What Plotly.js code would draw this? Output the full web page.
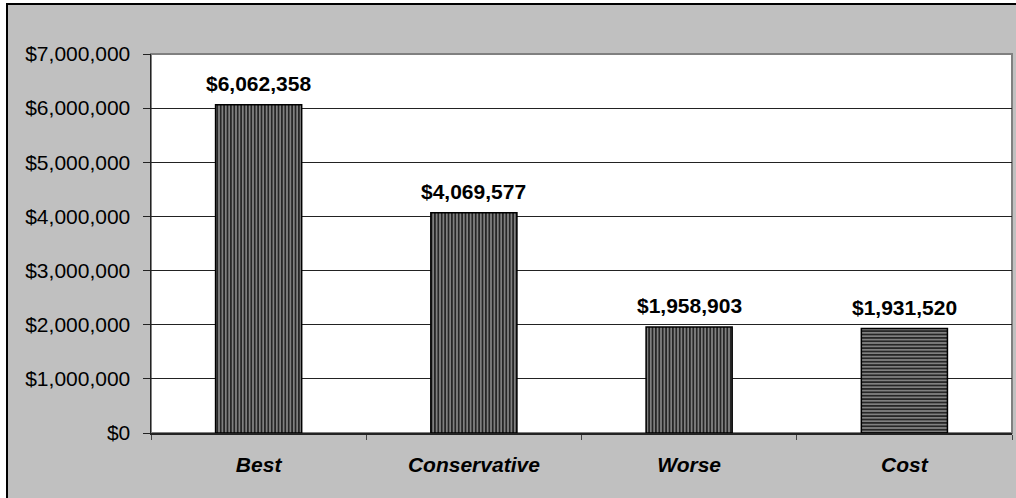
<!DOCTYPE html>
<html><head><meta charset="utf-8">
<script src="https://cdn.plot.ly/plotly-3.0.1.min.js"></script>
<style>
html,body{margin:0;padding:0;background:#fff;}
#chart{position:absolute;left:6px;top:3px;width:1010px;height:495px;border-left:2px solid #000;border-top:2px solid #000;}
</style></head><body>
<div id="chart"></div>
<script>
var categories = ["Best", "Conservative", "Worse", "Cost"];
var values = [6062358, 4069577, 1958903, 1931520];
var labels = ["$6,062,358", "$4,069,577", "$1,958,903", "$1,931,520"];
var patterns = ["|", "|", "|", "-"];
var yTicks = [0, 1000000, 2000000, 3000000, 4000000, 5000000, 6000000, 7000000];

var font = "Liberation Sans, Arial, sans-serif";
var trace = {
  type: "bar", x: categories, y: values,
  marker: {
    color: "#808080",
    line: {color: "#000", width: 1.5},
    pattern: {shape: patterns, fgcolor: "#000", bgcolor: "#808080", size: 3.4, solidity: 0.35, fillmode: "replace"}
  },
  hoverinfo: "none"
};
var annotations = categories.map(function(c, i){
  return {x: c, y: values[i], xref: "x", yref: "y", text: labels[i], showarrow: false,
    yanchor: "middle", yshift: 21, font: {family: font, size: 21, color: "#000", weight: "bold"}};
});
var layout = {
  width: 1010, height: 495,
  margin: {l: 143, r: 6, t: 49, b: 67},
  paper_bgcolor: "#c0c0c0", plot_bgcolor: "#fff",
  showlegend: false, bargap: 0.6,
  xaxis: {
    type: "category", showline: true, linecolor: "#222", linewidth: 1.5,
    ticks: "outside", tickson: "boundaries", ticklen: 5, tickcolor: "#444",
    tickfont: {family: font, size: 21, color: "#000", weight: "bold", style: "italic"},
    ticklabelstandoff: 12, showgrid: false, fixedrange: true
  },
  yaxis: {
    range: [0, 7000000], tickvals: yTicks, tickformat: "$,.0f",
    showline: true, linecolor: "#222", linewidth: 1.5,
    ticks: "outside", ticklen: 7, tickcolor: "#222",
    tickfont: {family: font, size: 21, color: "#000"},
    ticklabelstandoff: 8,
    showgrid: true, gridcolor: "#222", gridwidth: 1, zeroline: false, fixedrange: true
  },
  shapes: [{type: "rect", xref: "paper", yref: "paper", x0: 0, x1: 1, y0: 0, y1: 1,
    line: {color: "#808080", width: 2}, layer: "below"}],
  annotations: annotations
};
Plotly.newPlot("chart", [trace], layout, {displayModeBar: false, staticPlot: true});
</script>
</body></html>
